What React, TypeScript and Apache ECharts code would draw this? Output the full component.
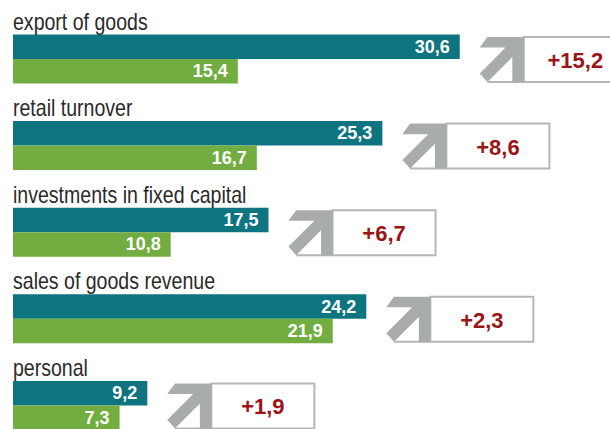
import React, { useEffect, useRef } from "react";
import * as echarts from "echarts";

const categories = [
  "export of goods",
  "retail turnover",
  "investments in fixed capital",
  "sales of goods revenue",
  "personal",
];
const currentValues = [30.6, 25.3, 17.5, 24.2, 9.2];
const previousValues = [15.4, 16.7, 10.8, 21.9, 7.3];
const differences = [15.2, 8.6, 6.7, 2.3, 1.9];

const TEAL = "#0e7580";
const GREEN = "#72ad42";
const GRAY = "#a9acac";
const BORDER = "#b5b7b7";
const RED = "#9a1515";
const LABEL_FONT = "'Liberation Sans', Arial, sans-serif";
const NUM_FONT = "'Liberation Sans', Arial, sans-serif";

const fmt = (v: number) => v.toFixed(1).replace(".", ",");

const ARROW = [
  [8, 0], [46, 0], [46, 47], [34, 47], [34, 21], [8, 47], [0, 38], [27, 11], [0, 11],
];

function renderItem(params: any, api: any) {
  const i = api.value(0);
  const cur = api.value(1);
  const prev = api.value(2);
  const diff = api.value(3);
  const c = api.coord([0, i]);
  const cy = c[1];
  const x0 = c[0];
  const endX = api.coord([Math.max(cur, prev), i])[0];
  const barTop = cy - 24.5;
  const top = cy - 22;
  const h = 45;
  const bottom = top + h;
  const ax = endX + 20;
  const s = h / 47;
  const bx = ax + 46 * s;
  const bw = 103;
  const pts = ARROW.map(([px, py]) => [ax + px * s, top + py * s]);
  return {
    type: "group",
    children: [
      {
        type: "text",
        x: x0,
        y: barTop - 1,
        scaleX: 0.85,
        style: {
          x: 0,
          y: 0,
          text: categories[i],
          fill: "#2a2a2a",
          fontSize: 23,
          fontFamily: LABEL_FONT,
          align: "left",
          verticalAlign: "bottom",
        },
      },
      {
        type: "rect",
        shape: { x: bx, y: top, width: bw, height: h },
        style: { fill: "#ffffff", stroke: BORDER, lineWidth: 2 },
      },
      {
        type: "line",
        shape: { x1: ax + 8 * s, y1: bottom, x2: bx, y2: bottom },
        style: { stroke: BORDER, lineWidth: 2 },
      },
      {
        type: "polygon",
        shape: { points: pts },
        style: { fill: GRAY },
      },
      {
        type: "text",
        style: {
          x: bx + bw / 2,
          y: top + h / 2 + 1,
          text: "+" + fmt(diff),
          fill: RED,
          fontSize: 22,
          fontWeight: "bold",
          fontFamily: NUM_FONT,
          align: "center",
          verticalAlign: "middle",
        },
      },
    ],
  };
}

export default function App() {
  const ref = useRef<HTMLDivElement>(null);
  useEffect(() => {
    if (!ref.current) return;
    const chart = echarts.init(ref.current, undefined, { renderer: "svg" });
    const valueLabel = {
      show: true,
      position: "insideRight",
      distance: 10,
      color: "#ffffff",
      fontWeight: "bold",
      fontSize: 18,
      fontFamily: NUM_FONT,
      formatter: (p: any) => fmt(p.value),
    };
    chart.setOption({
      animation: false,
      backgroundColor: "#ffffff",
      grid: {
        left: 13,
        top: 15.7,
        width: 584,
        height: 433,
        outerBoundsMode: "none",
        containLabel: false,
      },
      xAxis: { type: "value", min: 0, max: 40, show: false },
      yAxis: { type: "category", data: categories, inverse: true, show: false },
      series: [
        {
          type: "bar",
          data: currentValues,
          barWidth: 24.5,
          barGap: "0%",
          itemStyle: { color: TEAL },
          label: valueLabel,
          silent: true,
        },
        {
          type: "bar",
          data: previousValues,
          barWidth: 24.5,
          barGap: "0%",
          itemStyle: { color: GREEN },
          label: valueLabel,
          silent: true,
        },
        {
          type: "custom",
          data: categories.map((_, i) => [i, currentValues[i], previousValues[i], differences[i]]),
          encode: { x: 1, y: 0 },
          renderItem,
          clip: false,
          silent: true,
          z: 5,
        },
      ],
    });
    return () => chart.dispose();
  }, []);
  return (
    <div
      ref={ref}
      style={{ position: "fixed", left: 0, top: 0, width: 610, height: 429 }}
    />
  );
}
